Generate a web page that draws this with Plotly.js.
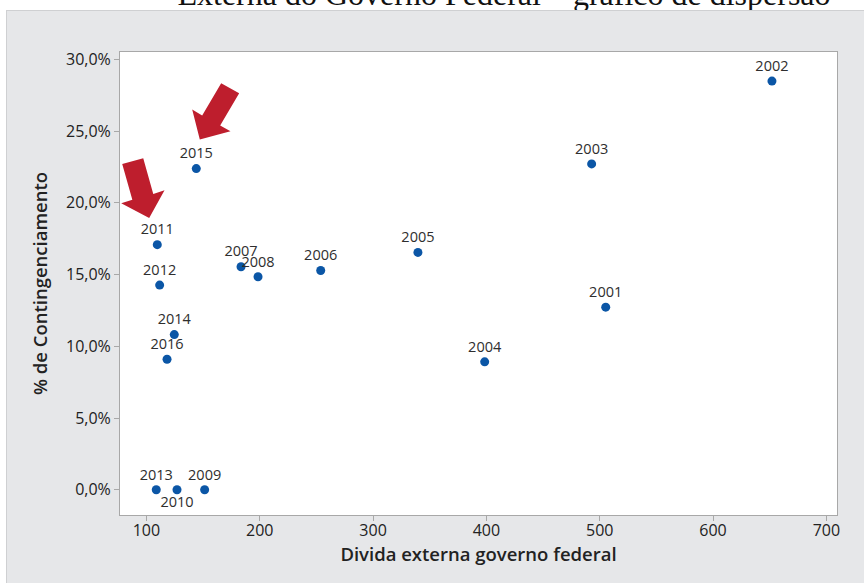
<!DOCTYPE html>
<html>
<head>
<meta charset="utf-8">
<script src="https://cdn.plot.ly/plotly-3.0.1.min.js"></script>
<style>
  html, body { margin: 0; padding: 0; background: #ffffff; width: 864px; height: 583px; overflow: hidden; position: relative; }
  #toptitle { position: absolute; left: 104px; width: 800px; top: -22px; height: 32px; line-height: 32px; text-align: center;
    font-family: "Liberation Serif", "DejaVu Serif", serif; font-size: 32px; color: #111; white-space: nowrap; }
  #chart { position: absolute; left: 6px; top: 10px; width: 858px; height: 573px; border-top: 1px solid #cfd0d2; border-left: 1px solid #cfd0d2; box-sizing: border-box; }
</style>
</head>
<body>
<div id="toptitle">Externa do Governo Federal – gráfico de dispersão</div>
<div id="chart"></div>
<script>
// Data
const years = ["2001","2002","2003","2004","2005","2006","2007","2008","2009","2010","2011","2012","2013","2014","2015","2016"];
const dividaExterna = [505.3, 652.0, 492.9, 398.5, 339.6, 253.8, 183.5, 198.5, 151.4, 127.0, 109.6, 111.7, 108.7, 124.6, 144.0, 118.2];
const contingenciamento = [12.73, 28.49, 22.72, 8.92, 16.55, 15.29, 15.55, 14.85, 0, 0, 17.09, 14.27, 0, 10.82, 22.39, 9.10];
const yTickVals = [0, 5, 10, 15, 20, 25, 30];
const yTickText = ["0,0%", "5,0%", "10,0%", "15,0%", "20,0%", "25,0%", "30,0%"];
const xTickVals = [100, 200, 300, 400, 500, 600, 700];

const labelPos = years.map(y => y === "2010" ? "bottom center" : "top center");

// plot area in page pixels (for decorative arrows)
const PL = 119.5, PR = 836.5, PT = 51.5, PB = 514;
function toPaper(pts) {
  return pts.map((p, i) => (i === 0 ? "M" : "L") + ((p[0] - PL) / (PR - PL)).toFixed(4) + "," + ((PB - p[1]) / (PB - PT)).toFixed(4)).join(" ") + " Z";
}
const arrow1 = [[220.7,82.7],[201.7,114.8],[191.7,109],[199.3,139],[230,130.7],[219.7,124.8],[238.7,92.7]];
const arrow2 = [[121.7,163.3],[131.8,199],[120.7,202.7],[148.7,217.3],[164,189.7],[152.8,193.4],[142.7,157.7]];

const trace = {
  type: "scatter",
  mode: "markers+text",
  x: dividaExterna,
  y: contingenciamento,
  text: years,
  textposition: labelPos,
  textfont: { family: "Open Sans, sans-serif", size: 14.5, color: "#2e2e2e" },
  marker: { color: "#0b56a6", size: 9 },
  cliponaxis: false,
  hoverinfo: "x+y+text"
};

const axisFont = { family: "Open Sans, sans-serif", size: 16, color: "#222222" };
const layout = {
  width: 858, height: 573,
  margin: { l: 113, r: 28, t: 41, b: 69 },
  paper_bgcolor: "#e6e7e9",
  plot_bgcolor: "#ffffff",
  showlegend: false,
  xaxis: {
    range: [76.7, 709.4],
    tickvals: xTickVals,
    ticks: "outside", ticklen: 5, tickcolor: "#a8a8a8",
    ticklabelstandoff: -4,
    showgrid: false, zeroline: false,
    showline: true, mirror: true, linecolor: "#a8a8a8", linewidth: 1,
    tickfont: axisFont,
    title: { text: "Divida externa governo federal", font: { family: "Open Sans, sans-serif", size: 18.5, color: "#222222", weight: 600 }, standoff: 3 }
  },
  yaxis: {
    range: [-1.76, 30.52],
    tickvals: yTickVals, ticktext: yTickText,
    ticks: "outside", ticklen: 5, tickcolor: "#a8a8a8",
    showgrid: false, zeroline: false,
    showline: true, mirror: true, linecolor: "#a8a8a8", linewidth: 1,
    tickfont: axisFont,
    title: { text: "% de Contingenciamento", font: { family: "Open Sans, sans-serif", size: 18.5, color: "#222222", weight: 600 }, standoff: 13 }
  },
  shapes: [
    { type: "path", xref: "paper", yref: "paper", path: toPaper(arrow1), fillcolor: "#be1e2d", line: { width: 0 }, layer: "above" },
    { type: "path", xref: "paper", yref: "paper", path: toPaper(arrow2), fillcolor: "#be1e2d", line: { width: 0 }, layer: "above" }
  ]
};

Plotly.newPlot("chart", [trace], layout, { displayModeBar: false, staticPlot: true });
</script>
</body>
</html>
